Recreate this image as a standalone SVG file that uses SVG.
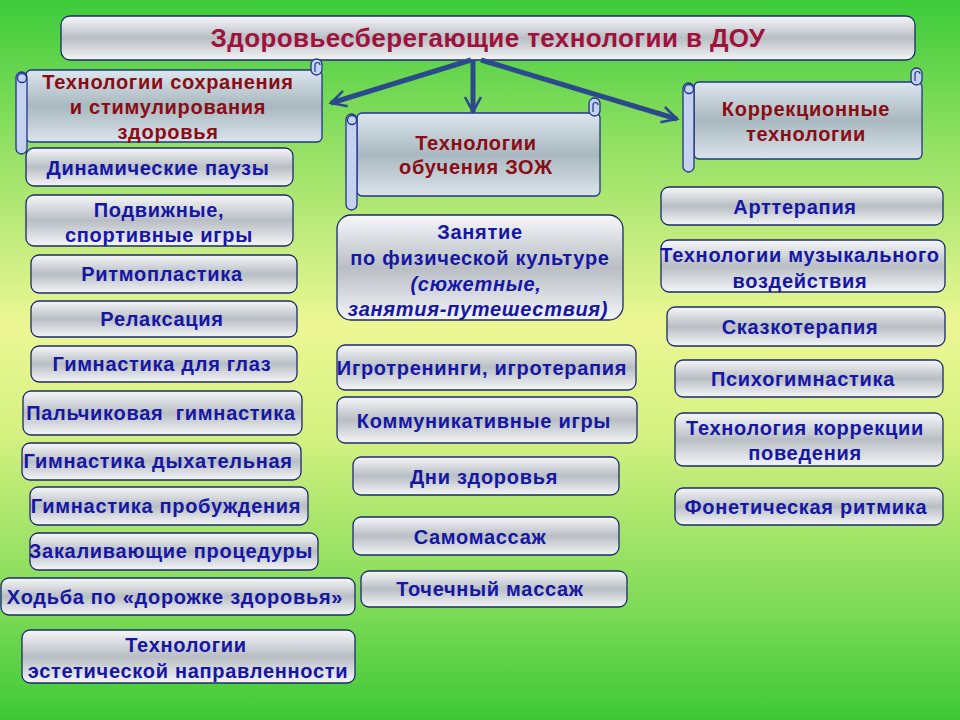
<svg xmlns="http://www.w3.org/2000/svg" width="960" height="720" viewBox="0 0 960 720">
<style>
.box{fill:url(#metal);stroke:#1c2a6c;stroke-width:1.3}
.scroll{fill:url(#scr);stroke:#22348c;stroke-width:1.3}
.roll{fill:#c4d2ee;stroke:#22348c;stroke-width:1.3}
.curl{fill:none;stroke:#22348c;stroke-width:1.2}
.t{font-family:"Liberation Sans",Arial,sans-serif;font-weight:bold;font-size:20px;letter-spacing:0.7px;fill:#1616a4;text-anchor:middle}
.r{fill:#8a0c14}
.i{font-style:italic}
.ttl{font-family:"Liberation Sans",Arial,sans-serif;font-weight:bold;font-size:26px;letter-spacing:0.4px;fill:#a0123c;text-anchor:middle}
.arr{stroke:#2b4a8c;stroke-width:5;fill:none;marker-end:url(#v)}
</style>
<defs>
<linearGradient id="bg" x1="0" y1="0" x2="0" y2="1">
<stop offset="0" stop-color="#3ccb3a"/>
<stop offset="0.2" stop-color="#92e064"/>
<stop offset="0.45" stop-color="#ecf794"/>
<stop offset="0.6" stop-color="#d6f182"/>
<stop offset="0.85" stop-color="#7cda56"/>
<stop offset="1" stop-color="#3cc836"/>
</linearGradient>
<linearGradient id="metal" x1="0" y1="0" x2="0" y2="1">
<stop offset="0" stop-color="#f6f7f9"/>
<stop offset="0.5" stop-color="#b8bec4"/>
<stop offset="1" stop-color="#f4f5f7"/>
</linearGradient>
<linearGradient id="scr" x1="0" y1="0" x2="0" y2="1">
<stop offset="0" stop-color="#dce6ee"/>
<stop offset="0.5" stop-color="#a9b8c0"/>
<stop offset="1" stop-color="#dae4ec"/>
</linearGradient>
<marker id="v" markerUnits="userSpaceOnUse" markerWidth="24" markerHeight="24" viewBox="-20 -12 24 24" refX="0" refY="0" orient="auto" overflow="visible">
<path d="M-15,-8 L0,0 L-15,8" fill="none" stroke="#2b4a8c" stroke-width="2.6"/>
</marker>
</defs>
<rect width="960" height="720" fill="url(#bg)"/>

<g id="title">
<rect x="61" y="16" width="854" height="44" rx="9" class="box"/>
<text x="488" y="47" class="ttl">Здоровьесберегающие технологии в ДОУ</text>
</g>

<g id="connectors">
<path d="M471,60 L331,103" class="arr"/>
<path d="M473,60 L473,112" class="arr"/>
<path d="M481,60 L677,119" class="arr"/>
</g>

<g id="scroll1">
<rect x="26" y="70" width="296" height="72" rx="5" class="scroll"/>
<rect x="311" y="59" width="11" height="16" rx="5.5" class="roll"/>
<path d="M315,72 v-7 a2.5,2.5 0 0 1 5,0" class="curl"/>
<rect x="16" y="72" width="11" height="82" rx="5.5" class="roll"/>
<circle cx="22" cy="78" r="4.5" class="roll"/>
<text x="168" y="89" class="t r">Технологии сохранения</text>
<text x="168" y="114" class="t r">и стимулирования</text>
<text x="168" y="139" class="t r">здоровья</text>
</g>

<g id="scroll2">
<rect x="357" y="113" width="243" height="83" rx="5" class="scroll"/>
<rect x="589" y="98" width="11" height="18" rx="5.5" class="roll"/>
<path d="M593,112 v-7 a2.5,2.5 0 0 1 5,0" class="curl"/>
<rect x="346" y="114" width="11" height="96" rx="5.5" class="roll"/>
<circle cx="352" cy="120" r="4.5" class="roll"/>
<text x="476" y="150" class="t r">Технологии</text>
<text x="476" y="174" class="t r">обучения ЗОЖ</text>
</g>

<g id="scroll3">
<rect x="694" y="82" width="228" height="77" rx="5" class="scroll"/>
<rect x="911" y="68" width="11" height="17" rx="5.5" class="roll"/>
<path d="M915,81 v-7 a2.5,2.5 0 0 1 5,0" class="curl"/>
<rect x="683" y="83" width="11" height="89" rx="5.5" class="roll"/>
<circle cx="689" cy="89" r="4.5" class="roll"/>
<text x="806" y="116" class="t r">Коррекционные</text>
<text x="806" y="141" class="t r">технологии</text>
</g>

<g id="l1"><rect x="26" y="148" width="267" height="38" rx="8" class="box"/><text x="158" y="175" class="t">Динамические паузы</text></g>
<g id="l2"><rect x="26" y="195" width="267" height="51" rx="8" class="box"/><text x="159" y="217" class="t">Подвижные,</text><text x="159" y="242" class="t">спортивные игры</text></g>
<g id="l3"><rect x="31" y="255" width="266" height="38" rx="8" class="box"/><text x="162" y="281" class="t">Ритмопластика</text></g>
<g id="l4"><rect x="31" y="301" width="266" height="36" rx="8" class="box"/><text x="162" y="326" class="t">Релаксация</text></g>
<g id="l5"><rect x="31" y="346" width="266" height="36" rx="8" class="box"/><text x="162" y="371" class="t">Гимнастика для глаз</text></g>
<g id="l6"><rect x="23" y="391" width="279" height="44" rx="8" class="box"/><text x="161" y="420" class="t" xml:space="preserve">Пальчиковая  гимнастика</text></g>
<g id="l7"><rect x="22" y="443" width="279" height="37" rx="8" class="box"/><text x="158" y="468" class="t">Гимнастика дыхательная</text></g>
<g id="l8"><rect x="30" y="487" width="278" height="38" rx="8" class="box"/><text x="166" y="513" class="t">Гимнастика пробуждения</text></g>
<g id="l9"><rect x="30" y="533" width="288" height="37" rx="8" class="box"/><text x="171" y="558" class="t">Закаливающие процедуры</text></g>
<g id="l10"><rect x="1" y="578" width="354" height="37" rx="8" class="box"/><text x="175" y="604" class="t">Ходьба по «дорожке здоровья»</text></g>
<g id="l11"><rect x="22" y="630" width="333" height="53" rx="8" class="box"/><text x="186" y="652" class="t">Технологии</text><text x="188" y="678" class="t">эстетической направленности</text></g>

<g id="m1"><rect x="337" y="215" width="286" height="105" rx="14" class="box"/>
<text x="480" y="239" class="t">Занятие</text>
<text x="480" y="265" class="t">по физической культуре</text>
<text x="476" y="291" class="t i">(сюжетные,</text>
<text x="478" y="316" class="t i">занятия-путешествия)</text></g>
<g id="m2"><rect x="337" y="345" width="299" height="45" rx="8" class="box"/><text x="482" y="375" class="t">Игротренинги, игротерапия</text></g>
<g id="m3"><rect x="337" y="397" width="300" height="46" rx="8" class="box"/><text x="484" y="428" class="t">Коммуникативные игры</text></g>
<g id="m4"><rect x="353" y="457" width="266" height="38" rx="8" class="box"/><text x="484" y="484" class="t">Дни здоровья</text></g>
<g id="m5"><rect x="353" y="517" width="266" height="38" rx="8" class="box"/><text x="480" y="544" class="t">Самомассаж</text></g>
<g id="m6"><rect x="361" y="571" width="266" height="36" rx="8" class="box"/><text x="490" y="596" class="t">Точечный массаж</text></g>

<g id="r1"><rect x="661" y="187" width="282" height="38" rx="8" class="box"/><text x="795" y="214" class="t">Арттерапия</text></g>
<g id="r2"><rect x="661" y="240" width="284" height="52" rx="8" class="box"/><text x="800" y="262" class="t">Технологии музыкального</text><text x="800" y="288" class="t">воздействия</text></g>
<g id="r3"><rect x="667" y="307" width="278" height="39" rx="8" class="box"/><text x="800" y="334" class="t">Сказкотерапия</text></g>
<g id="r4"><rect x="675" y="360" width="268" height="37" rx="8" class="box"/><text x="803" y="386" class="t">Психогимнастика</text></g>
<g id="r5"><rect x="675" y="413" width="268" height="53" rx="8" class="box"/><text x="805" y="435" class="t">Технология коррекции</text><text x="805" y="460" class="t">поведения</text></g>
<g id="r6"><rect x="675" y="488" width="268" height="37" rx="8" class="box"/><text x="806" y="514" class="t">Фонетическая ритмика</text></g>
</svg>
